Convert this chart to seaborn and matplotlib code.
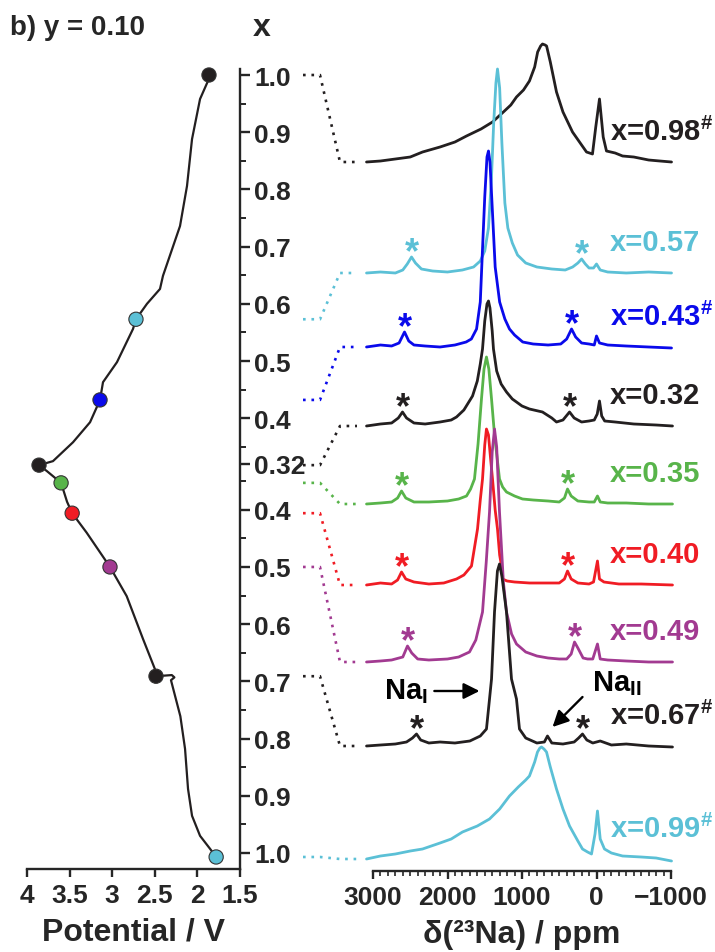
import matplotlib
matplotlib.use('Agg')
import matplotlib.pyplot as plt
from matplotlib.lines import Line2D
import numpy as np
import pandas as pd
import seaborn as sns

# colours
BLACK = '#231f20'
CYAN = '#5bc0d6'
BLUE = '#0a0aeb'
GREEN = '#58b44a'
RED = '#f01c24'
PURPLE = '#a23a91'

# ---- left panel: potential profile (path coordinate s, charge then discharge) ----
curve_V = [1.864, 1.876, 1.969, 2.063, 2.122, 2.204, 2.404, 2.439, 2.592, 2.721,
           2.756, 2.944, 3.108, 3.143, 3.26, 3.46, 3.695, 3.859,
           3.77, 3.60, 3.53, 3.47, 3.30, 3.026, 2.83, 2.638, 2.50, 2.486,
           2.30, 2.27, 2.31, 2.20, 2.145, 2.11, 2.063, 1.969, 1.85, 1.78]
curve_s = [0.0, 0.0105, 0.042, 0.112, 0.194, 0.264, 0.351, 0.374, 0.400, 0.427,
           0.444, 0.502, 0.537, 0.568, 0.607, 0.642, 0.675, 0.682,
           0.692, 0.713, 0.746, 0.766, 0.800, 0.860, 0.911, 0.986, 1.038, 1.051,
           1.049, 1.053, 1.058, 1.121, 1.178, 1.248, 1.295, 1.330, 1.353, 1.367]

dot_names = ['c0.98', 'c0.57', 'c0.43', 'c0.32', 'd0.35', 'd0.40', 'd0.49', 'd0.67', 'd0.99']
dot_V = [1.864, 2.721, 3.143, 3.859, 3.60, 3.47, 3.026, 2.486, 1.78]
dot_s = [0.0, 0.427, 0.568, 0.682, 0.713, 0.766, 0.860, 1.051, 1.367]
dot_colors = [BLACK, CYAN, BLUE, BLACK, GREEN, RED, PURPLE, BLACK, CYAN]

ytick_s = [0.0, 0.1, 0.2, 0.3, 0.4, 0.5, 0.6, 0.68, 0.76, 0.86, 0.96, 1.06, 1.16, 1.26, 1.36]
ytick_labels = ['1.0', '0.9', '0.8', '0.7', '0.6', '0.5', '0.4', '0.32',
                '0.4', '0.5', '0.6', '0.7', '0.8', '0.9', '1.0']
yminor_s = [0.05, 0.15, 0.25, 0.35, 0.45, 0.55, 0.65, 0.71, 0.81, 0.91, 1.01, 1.11, 1.21, 1.31]
xtick_V = [4, 3.5, 3, 2.5, 2, 1.5]
xtick_labels = ['4', '3.5', '3', '2.5', '2', '1.5']

# ---- right panel: 23Na spectra (ppm, height above own baseline) ----
labels = ['x=0.98$^{\\#}$', 'x=0.57', 'x=0.43$^{\\#}$', 'x=0.32', 'x=0.35',
          'x=0.40', 'x=0.49', 'x=0.67$^{\\#}$', 'x=0.99$^{\\#}$']
spec_colors = [BLACK, CYAN, BLUE, BLACK, GREEN, RED, PURPLE, BLACK, CYAN]
offsets = [709, 598, 524, 445, 367, 286, 209, 125, 12]

ppm_098 = [3087, 2900, 2700, 2500, 2335, 2100, 1900, 1745, 1550, 1396, 1250, 1150, 1074, 980, 900,
           830, 790, 750, 725, 690, 670, 620, 537, 450, 322, 200, 134, 54, 10, -40, -90, -134,
           -250, -350, -500, -700, -850, -1007]
h_098 = [0, 1, 3, 5, 10, 15, 20, 26, 33, 40, 50, 57, 65, 72, 81,
         95, 110, 116, 118, 117, 116, 100, 70, 50, 30, 17, 10, 8, 35, 63, 25, 11,
         9, 6, 5, 2, 1, 0]

ppm_057 = [3087, 2900, 2700, 2600, 2540, 2483, 2430, 2350, 2200, 2000, 1800, 1650, 1560, 1500,
           1450, 1410, 1380, 1350, 1329, 1300, 1270, 1230, 1190, 1130, 1060, 950, 800, 600,
           420, 320, 250, 200, 150, 100, 40, 0, -50, -150, -400, -700, -1007]
h_057 = [0, 1, 0, 3, 9, 16, 10, 4, 2, 1, 3, 6, 12, 22,
         45, 95, 150, 190, 204, 185, 130, 70, 45, 30, 18, 10, 6, 4,
         3, 6, 10, 14, 9, 5, 5, 9, 3, 1, 0, 1, 0]

ppm_043 = [3087, 2900, 2750, 2650, 2577, 2520, 2450, 2300, 2100, 1900, 1750, 1680, 1610, 1560,
           1530, 1500, 1470, 1450, 1430, 1400, 1360, 1300, 1230, 1168, 1100, 990, 850, 650,
           480, 400, 335, 280, 200, 100, 30, 0, -40, -150, -400, -700, -1007]
h_043 = [0, 2, 1, 4, 15, 6, 2, 1, 0, 2, 5, 8, 18, 45,
         98, 150, 190, 196, 185, 140, 80, 45, 28, 18, 12, 5, 3, 2,
         3, 8, 18, 10, 4, 3, 2, 11, 4, 2, 1, 0, -1]

ppm_032 = [3087, 2900, 2750, 2660, 2604, 2550, 2450, 2300, 2100, 1950, 1879, 1780, 1664, 1600,
           1560, 1530, 1500, 1470, 1450, 1430, 1400, 1383, 1340, 1280, 1208, 1130, 1074, 1000,
           900, 725, 600, 537, 450, 362, 300, 200, 100, 30, -10, -40, -70, -110, -250, -500,
           -800, -1020]
h_032 = [0, 2, 3, 8, 14, 8, 3, 2, 4, 6, 9, 16, 30, 45,
         62, 77, 105, 122, 125, 118, 95, 77, 55, 42, 34, 27, 24, 20,
         17, 14, 8, 4, 6, 14, 8, 4, 5, 6, 12, 25, 10, 5, 4, 2,
         1, 0]

ppm_035 = [3087, 2900, 2750, 2670, 2617, 2560, 2450, 2250, 2000, 1850, 1745, 1690, 1638, 1590,
           1544, 1510, 1477, 1445, 1409, 1370, 1302, 1260, 1208, 1100, 993, 850, 650, 500,
           430, 389, 340, 250, 100, 30, -13, -50, -150, -400, -700, -1020]
h_035 = [0, 1, 2, 6, 13, 6, 2, 2, 3, 5, 8, 15, 25, 60,
         105, 135, 147, 135, 105, 70, 25, 17, 12, 8, 5, 4, 3, 2,
         6, 15, 8, 3, 2, 2, 8, 2, 1, 1, 0, 0]

ppm_040 = [3087, 2900, 2750, 2670, 2617, 2560, 2450, 2250, 2050, 1879, 1780, 1678, 1597, 1560,
           1530, 1500, 1477, 1450, 1420, 1396, 1360, 1329, 1300, 1275, 1262, 1200, 1100, 900,
           700, 500, 430, 389, 340, 250, 100, 40, -13, -40, -100, -300, -600, -1020]
h_040 = [0, 2, 1, 5, 13, 6, 3, 1, 2, 6, 10, 19, 56, 85,
         106, 140, 156, 150, 125, 106, 75, 56, 30, 19, 6, 4, 3, 2,
         2, 2, 6, 14, 6, 2, 1, 3, 24, 6, 3, 1, 1, 0]

ppm_049 = [3087, 2900, 2750, 2600, 2537, 2480, 2400, 2250, 2000, 1850, 1705, 1620, 1530, 1480,
           1436, 1400, 1369, 1340, 1302, 1250, 1208, 1140, 1074, 950, 800, 650, 500, 400,
           340, 295, 250, 180, 120, 50, -13, -50, -150, -400, -700, -1020]
h_049 = [0, 1, 2, 5, 16, 9, 3, 2, 3, 5, 10, 22, 50, 100,
         150, 210, 233, 215, 150, 80, 50, 28, 18, 10, 6, 4, 3, 3,
         8, 20, 14, 4, 3, 3, 18, 3, 2, 1, 0, 0]

ppm_067 = [3087, 2900, 2700, 2550, 2470, 2416, 2360, 2250, 2100, 1900, 1700, 1560, 1477, 1436,
           1409, 1369, 1330, 1302, 1270, 1208, 1141, 1074, 1034, 950, 800, 700, 658, 600,
           450, 300, 240, 188, 130, 50, -50, -200, -400, -700, -1020]
h_067 = [0, 1, 2, 4, 8, 12, 6, 3, 4, 3, 5, 10, 17, 47,
         67, 134, 175, 182, 170, 134, 67, 47, 17, 8, 3, 4, 10, 3,
         2, 4, 8, 12, 6, 3, 5, 1, 2, 0, -1]

ppm_099 = [3087, 2900, 2700, 2500, 2335, 2100, 1950, 1799, 1600, 1436, 1300, 1168, 1050, 950,
           900, 830, 792, 760, 738, 705, 671, 620, 537, 450, 362, 250, 188, 120, 67, 20, -13,
           -50, -107, -200, -350, -600, -800, -1007]
h_099 = [0, 3, 5, 8, 10, 16, 20, 27, 33, 40, 50, 63, 72, 79,
         83, 97, 107, 111, 112, 110, 107, 92, 70, 50, 33, 18, 10, 7, 5, 25, 48,
         20, 10, 6, 3, 2, 1, -2]

spectra_ppm = [ppm_098, ppm_057, ppm_043, ppm_032, ppm_035, ppm_040, ppm_049, ppm_067, ppm_099]
spectra_h = [h_098, h_057, h_043, h_032, h_035, h_040, h_049, h_067, h_099]

# spinning sideband markers (ppm, peak height) for each spectrum, None if absent
stars = [None,
         [(2483, 16), (200, 14)],
         [(2577, 15), (335, 18)],
         [(2604, 14), (362, 14)],
         [(2617, 13), (389, 15)],
         [(2617, 13), (389, 14)],
         [(2537, 16), (295, 20)],
         [(2416, 12), (188, 12)],
         None]

# ---- style ----
sns.set_theme(style='ticks')
plt.rcParams['font.family'] = ['Liberation Sans', 'DejaVu Sans']
plt.rcParams['font.weight'] = 'bold'
plt.rcParams['mathtext.fontset'] = 'custom'
plt.rcParams['mathtext.rm'] = 'Liberation Sans:bold'
plt.rcParams['mathtext.bf'] = 'Liberation Sans:bold'
plt.rcParams['axes.linewidth'] = 1.7

fig = plt.figure(figsize=(7.15, 9.53), dpi=100)
axl = fig.add_axes([27 / 715, 83 / 953, 213 / 715, 800 / 953])
axr = fig.add_axes([373 / 715, 81 / 953, 298 / 715, 837 / 953])

# left panel
curve = pd.DataFrame({'V': curve_V, 's': curve_s})
sns.lineplot(data=curve, x='V', y='s', sort=False, estimator=None, color=BLACK,
             lw=1.6, ax=axl)
dots = pd.DataFrame({'V': dot_V, 's': dot_s, 'name': dot_names})
sns.scatterplot(data=dots, x='V', y='s', hue='name', palette=dict(zip(dot_names, dot_colors)),
                s=105, edgecolor='#333333', linewidth=0.8, legend=False, ax=axl, zorder=5,
                clip_on=False)
axl.set_xlim(4, 1.5)
axl.set_ylim(1.388, -0.0105)
for sp in ['top', 'left']:
    axl.spines[sp].set_visible(False)
axl.yaxis.tick_right()
axl.set_yticks(ytick_s)
axl.set_yticklabels(ytick_labels)
axl.set_yticks(yminor_s, minor=True)
axl.set_xticks(xtick_V)
axl.set_xticklabels(xtick_labels)
axl.tick_params(axis='y', which='major', direction='out', length=7, width=1.7,
                labelsize=19, pad=3)
axl.tick_params(axis='y', which='minor', direction='out', length=4, width=1.4, right=True)
axl.tick_params(axis='x', which='major', direction='out', length=6, width=1.7,
                labelsize=19, pad=4)
axl.set_xlabel('Potential / V', fontsize=23, fontweight='bold', labelpad=7)
axl.set_ylabel('')
axl.set_facecolor('none')
for t in axl.get_yticklabels() + axl.get_xticklabels():
    t.set_fontweight('bold')

# right panel
for ppm, h, off, col in zip(spectra_ppm, spectra_h, offsets, spec_colors):
    sns.lineplot(x=ppm, y=np.array(h) + off, sort=False, estimator=None, color=col,
                 lw=2.0, ax=axr)
for ln in axr.lines:
    ln.set_clip_on(False)

for lab, off, col, st in zip(labels, offsets, spec_colors, stars):
    axr.text(-175, off + 31, lab, color=col, fontsize=21, fontweight='bold',
             ha='left', va='center', clip_on=False)
    if st:
        for p, hh in st:
            axr.text(p, off + hh - 5, '*', color=col, fontsize=26, fontweight='bold',
                     ha='center', va='baseline')

axr.annotate('Na$_{\\mathbf{I}}$', xy=(1570, 180), xytext=(2846, 180), fontsize=21,
             fontweight='bold', ha='left', va='center', color='black',
             arrowprops=dict(arrowstyle='-|>', mutation_scale=24, lw=1.7, color='black',
                             shrinkA=2, shrinkB=0))
axr.annotate('', xy=(590, 144), xytext=(188, 174),
             arrowprops=dict(arrowstyle='-|>', mutation_scale=24, lw=1.7, color='black',
                             shrinkA=0, shrinkB=0))
axr.text(67, 188, 'Na$_{\\mathbf{II}}$', fontsize=21, fontweight='bold', ha='left',
         va='center', color='black')

axr.set_xlim(3000, -1000)
axr.set_ylim(0, 837)
for sp in ['top', 'left', 'right']:
    axr.spines[sp].set_visible(False)
axr.set_yticks([])
axr.set_xticks([3000, 2000, 1000, 0, -1000])
axr.set_xticklabels(['3000', '2000', '1000', '0', '\u22121000'])
axr.set_xticks(np.arange(-1000, 3001, 100), minor=True)
axr.tick_params(axis='x', which='major', direction='out', length=6, width=1.7,
                labelsize=19, pad=4)
axr.tick_params(axis='x', which='minor', direction='out', length=3.5, width=1.2, bottom=True)
for t in axr.get_xticklabels():
    t.set_fontweight('bold')
axr.set_xlabel('\u03b4(\u00b2\u00b3Na) / ppm', fontsize=23, fontweight='bold', labelpad=7)
axr.set_ylabel('')
axr.set_facecolor('none')

# dotted connectors from the potential curve to each spectrum baseline
fx = np.array([303, 320, 340, 357]) / 715
inv = fig.transFigure.inverted()
for V, s, off, col in zip(dot_V, dot_s, offsets, spec_colors):
    y0 = inv.transform(axl.transData.transform((V, s)))[1]
    y1 = inv.transform(axr.transData.transform((0, off)))[1]
    fig.add_artist(Line2D(fx, [y0, y0, y1, y1], transform=fig.transFigure, color=col,
                          lw=1.9, linestyle=(0, (1, 2.2))))

fig.text(10 / 715, 1 - 28 / 953, 'b) y = 0.10', fontsize=20, fontweight='bold',
         ha='left', va='center')
fig.text(262 / 715, 1 - 28 / 953, 'x', fontsize=23, fontweight='bold', ha='center',
         va='center')

fig.savefig('out.png', dpi=100)
